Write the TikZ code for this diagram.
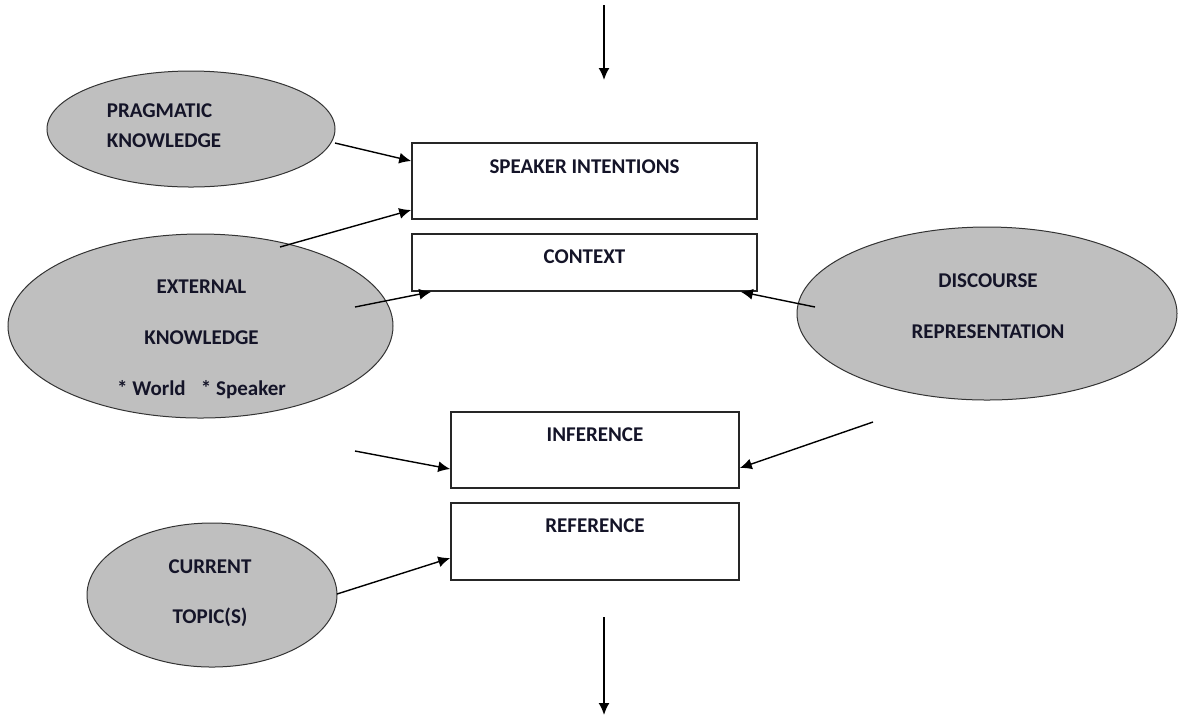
\documentclass[tikz,border=0pt]{standalone}
\usepackage{fontspec}
\setmainfont{Carlito}
\usepackage{tikz}
\usepackage{xcolor}
\usetikzlibrary{shapes.geometric,arrows.meta,positioning}
\definecolor{oval-grey}{HTML}{BFBFBF}
\definecolor{label-ink}{HTML}{141428}
\tikzset{
    grey-ellipse/.style = {draw=black!80, fill=oval-grey, ellipse, line width=0.5pt, inner sep=0pt},
    plain-box/.style = {draw=black!85, fill=white, rectangle, line width=0.8pt, inner sep=0pt},
    box-title/.style = {font=\fontsize{10.5}{12}\selectfont\bfseries, text=label-ink, inner sep=0pt},
    oval-text/.style = {font=\fontsize{10.5}{25.5}\selectfont\bfseries, text=label-ink, inner sep=0pt, align=center},
    flow/.style = {-{Latex[length=6pt,width=5.5pt]}, line width=0.7pt},
}
\begin{document}
\begin{tikzpicture}[x=0.5pt, y=-0.5pt]
\useasboundingbox (0,0) rectangle (1181,720);
% boxes
\node [plain-box, minimum width=172.5pt, minimum height=38pt] (si) at (584.5,181) {};
\node [plain-box, minimum width=172.5pt, minimum height=28.5pt] (ctx) at (584.5,262.5) {};
\node [plain-box, minimum width=144pt, minimum height=38pt] (inf) at (595,450) {};
\node [plain-box, minimum width=144pt, minimum height=38.5pt] (ref) at (595,541.5) {};
\node [box-title] (si-t) at ([yshift=-12pt]si.north) {SPEAKER INTENTIONS};
\node [box-title] (ctx-t) at ([yshift=-11.5pt]ctx.north) {CONTEXT};
\node [box-title] (inf-t) at ([yshift=-11.5pt]inf.north) {INFERENCE};
\node [box-title] (ref-t) at ([yshift=-11.5pt]ref.north) {REFERENCE};
% ellipses
\node [grey-ellipse, minimum width=144pt, minimum height=58pt] (prag) at (191,129) {};
\node [grey-ellipse, minimum width=192.5pt, minimum height=92pt] (ext) at (200.5,326) {};
\node [grey-ellipse, minimum width=190pt, minimum height=86.5pt] (disc) at (987,313.5) {};
\node [grey-ellipse, minimum width=125pt, minimum height=72pt] (cur) at (212,595) {};
\node [oval-text, align=left, font=\fontsize{10.5}{15}\selectfont\bfseries] (prag-t) at ([xshift=-13.5pt, yshift=1.5pt]prag.center) {PRAGMATIC\\KNOWLEDGE};
\node [oval-text] (ext-t) at ([xshift=0.5pt, yshift=-6.5pt]ext.center) {EXTERNAL\\KNOWLEDGE\\* World\enspace\ * Speaker};
\node [oval-text] (disc-t) at ([xshift=0.5pt, yshift=3.5pt]disc.center) {DISCOURSE\\REPRESENTATION};
\node [oval-text, font=\fontsize{10.5}{25}\selectfont\bfseries] (cur-t) at ([xshift=-1pt, yshift=1pt]cur.center) {CURRENT\\TOPIC(S)};
% loose ends
\coordinate (syn-in) at (604,5);
\coordinate (syn-out) at (604,80);
\coordinate (res-in) at (604,617);
\coordinate (res-out) at (604,715);
\coordinate (prag-a) at (335,143);
\coordinate (ext-a) at (280,247);
\coordinate (ext-b) at (355,307);
\coordinate (ext-c) at (355,451);
\coordinate (disc-a) at (815,307);
\coordinate (disc-b) at (873,422);
\coordinate (cur-a) at (337,594);
% arrows
\draw [flow, line width=0.9pt] (syn-in) -- (syn-out);
\draw [flow, line width=0.9pt] (res-in) -- (res-out);
\draw [flow] (prag-a) -- ([yshift=10pt]si.west);
\draw [flow] (ext-a) -- ([yshift=-14.5pt]si.west);
\draw [flow] (ext-b) -- ([xshift=10pt]ctx.south west);
\draw [flow] (disc-a) -- ([xshift=-8.5pt]ctx.south east);
\draw [flow] (ext-c) -- ([yshift=-9.5pt]inf.west);
\draw [flow] (disc-b) -- ([yshift=-9pt]inf.east);
\draw [flow] (cur-a) -- ([yshift=-8.25pt]ref.west);
\end{tikzpicture}
\end{document}
